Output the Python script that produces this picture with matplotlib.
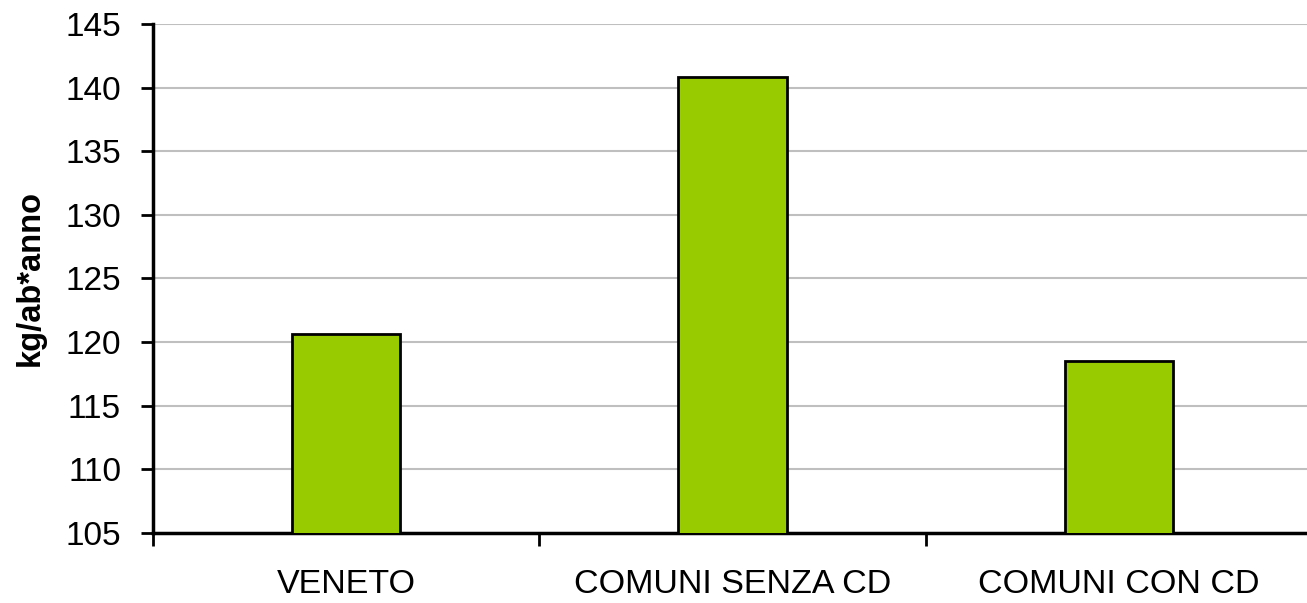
import matplotlib
matplotlib.use("Agg")
import matplotlib.pyplot as plt
from matplotlib.ticker import FixedLocator

categories = ["VENETO", "COMUNI SENZA CD", "COMUNI CON CD"]
values = [120.6, 140.8, 118.5]
yticks = [105, 110, 115, 120, 125, 130, 135, 140, 145]

plt.rcParams['font.family'] = ['Liberation Sans', 'DejaVu Sans']

fig = plt.figure(figsize=(13.07, 6.03), dpi=100)
ax = fig.add_axes([153/1307, 1 - 533/603, (1312-153)/1307, (533-24)/603])

x = list(range(len(categories)))
ax.bar(x, values, width=0.28, bottom=0, color="#99CC00", edgecolor="black", linewidth=2, zorder=3)

ax.set_xlim(-0.5, len(categories) - 0.5)
ax.set_ylim(105, 145)
ax.set_yticks(yticks)
ax.set_yticklabels([str(t) for t in yticks], fontsize=24)
ax.yaxis.grid(True, color="#BFBFBF", linewidth=1.5, zorder=0)
ax.set_axisbelow(True)

ax.set_xticks(x)
ax.set_xticklabels(categories, fontsize=24.5)
ax.tick_params(axis='x', which='major', length=0, pad=26)
ax.xaxis.set_minor_locator(FixedLocator([i - 0.5 for i in range(len(categories) + 1)]))
ax.tick_params(axis='x', which='minor', length=9, width=2, direction='out')
ax.tick_params(axis='y', length=9, width=2, direction='out', pad=14)

for s in ['top', 'right']:
    ax.spines[s].set_visible(False)
for s in ['left', 'bottom']:
    ax.spines[s].set_linewidth(2.5)

ax.set_ylabel("kg/ab*anno", fontsize=23.5, fontweight='bold', labelpad=14)

fig.savefig("out.png", dpi=100)
